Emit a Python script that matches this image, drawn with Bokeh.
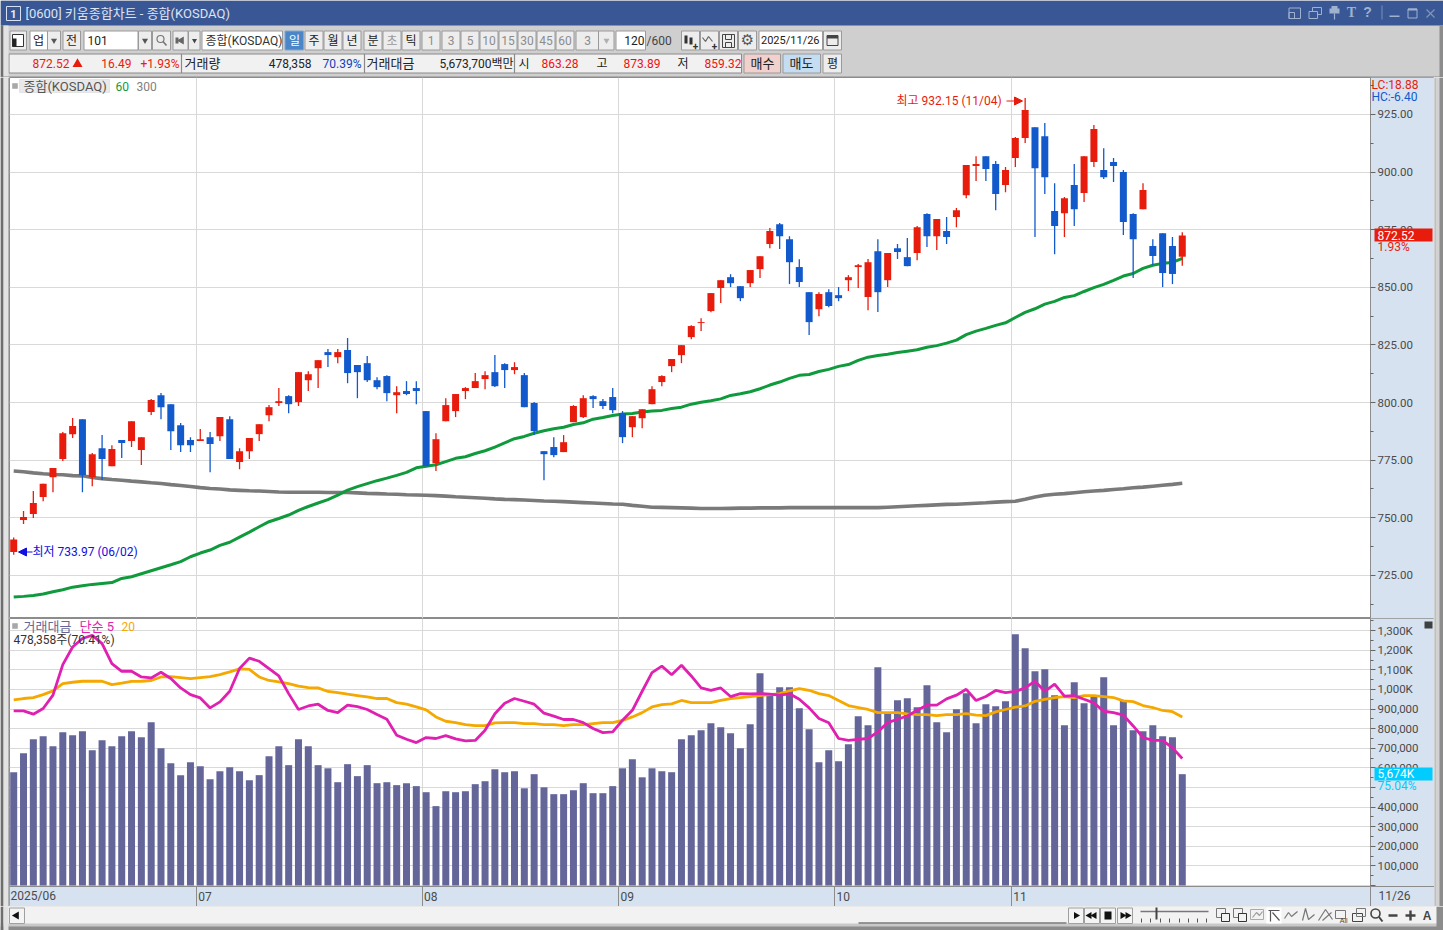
from bokeh.core.properties import value
from bokeh.embed import file_html
from bokeh.layouts import column, row
from bokeh.models import (Arrow, BoxAnnotation, ColumnDataSource, FixedTicker, Grid, Label,
                          LinearAxis, NormalHead, NumeralTickFormatter, Range1d)
from bokeh.plotting import figure
from bokeh.resources import INLINE

FONT = "Roboto, 'Noto Sans CJK KR', sans-serif"
SERIF = "'Liberation Serif', serif"
SANS = "'Liberation Sans', sans-serif"
DEJAVU = "'DejaVu Sans', sans-serif"

open_ = [735.1,749.0,751.6,759.0,767.6,775.5,786.3,792.8,767.6,780.2,772.4,783.7,783.3,779.4,795.9,803.2,799.3,790.2,783.7,783.3,
         785.0,785.4,792.8,774.2,778.9,786.3,794.5,799.8,802.8,800.2,809.7,814.9,821.9,819.7,822.8,816.3,817.1,809.7,811.5,803.2,
         805.0,806.3,796.3,773.7,791.9,796.3,805.0,806.3,810.2,813.2,816.7,814.1,811.9,799.8,778.9,780.7,778.5,791.5,793.7,802.8,
         800.6,802.4,795.4,789.3,793.2,799.3,808.9,815.8,820.6,828.4,834.5,839.7,849.7,854.4,850.5,851.8,857.9,868.8,877.4,870.9,
         858.8,847.9,840.5,847.9,846.6,853.1,858.8,845.8,865.7,853.1,867.0,863.1,864.9,881.8,872.2,874.4,880.5,890.0,902.6,906.9,
         903.5,894.4,906.1,914.8,919.5,915.6,883.1,882.2,894.4,890.9,904.4,900.9,904.4,900.0,881.8,883.9,867.9,873.5,867.9,863.28]
high = [741.5,752.9,761.6,764.8,771.6,787.2,793.3,792.8,778.1,785.9,781.5,783.7,791.9,785.0,801.5,804.1,799.3,791.1,785.0,788.5,
        787.2,793.7,794.1,780.2,784.6,790.6,798.9,806.3,803.2,813.2,813.6,818.4,823.2,823.2,828.0,816.3,820.2,811.0,811.9,807.1,
        809.3,809.3,796.3,786.7,801.9,803.7,806.7,812.8,813.6,820.6,817.1,817.5,812.8,800.2,778.9,785.0,785.9,798.9,803.2,803.2,
        801.5,806.3,796.3,794.1,797.1,807.1,811.9,818.9,824.9,833.6,836.6,847.5,853.1,855.7,850.5,857.5,863.5,875.7,877.9,872.2,
        862.2,847.9,847.9,849.2,850.1,855.3,860.1,862.3,870.9,864.9,868.8,871.4,876.6,882.2,879.6,880.5,884.4,903.1,906.9,906.9,
        904.8,902.2,915.2,932.15,919.5,921.3,895.2,889.2,903.5,906.9,920.4,910.4,906.1,900.9,882.2,895.2,870.9,873.5,871.8,873.89]
low = [733.97,747.3,749.9,757.2,761.1,774.6,784.6,761.1,763.7,766.4,772.4,775.9,780.7,772.9,794.6,792.8,779.4,778.5,778.5,783.3,
       769.8,783.3,775.5,771.1,775.5,783.3,791.9,798.5,795.4,798.5,805.0,806.3,815.4,817.1,808.4,801.9,808.9,805.8,800.6,795.4,
       803.2,799.3,772.4,770.3,791.9,793.7,801.5,806.3,805.8,806.7,806.3,812.3,798.0,785.9,766.3,776.3,778.5,791.5,793.3,797.6,
       797.2,795.4,782.4,785.0,788.9,799.3,807.1,813.2,817.1,827.5,831.0,839.2,843.2,850.1,844.0,850.1,854.0,867.0,866.6,851.4,
       850.1,829.3,837.5,841.4,844.0,848.4,849.7,840.1,839.3,850.1,862.3,859.2,861.8,867.5,866.2,868.8,876.1,888.7,896.1,896.1,
       883.5,891.3,902.2,912.6,871.8,890.5,864.4,871.8,876.6,887.0,902.2,897.0,895.7,872.7,854.0,883.9,859.7,850.1,851.4,859.32]
close = [740.6,750.3,756.4,764.8,771.6,786.7,789.8,768.5,777.6,775.5,779.8,782.4,791.9,785.0,801.1,798.0,787.6,781.5,781.5,784.1,
         782.0,793.7,775.5,778.9,784.6,790.6,798.0,800.6,799.3,813.2,812.3,818.4,820.6,821.9,812.8,813.2,809.7,806.7,804.1,804.5,
         803.7,805.0,772.4,784.1,798.9,803.7,806.3,809.3,811.9,807.1,814.1,815.4,798.0,787.6,777.6,777.2,782.8,798.5,801.9,801.5,
         798.5,796.7,785.0,794.1,797.1,805.8,811.5,818.9,824.9,833.2,834.9,847.5,853.1,851.8,845.3,857.5,863.5,874.4,872.2,860.9,
         852.3,834.9,847.1,841.9,845.3,854.4,859.6,860.9,847.9,864.9,865.3,859.2,876.1,872.2,879.6,871.8,883.5,903.1,903.5,901.3,
         890.5,900.9,914.8,926.9,901.7,897.8,876.6,888.7,883.9,906.9,918.7,897.8,902.6,878.3,870.9,892.2,863.6,856.2,855.8,872.52]
ma60 = [715.6,715.9,716.3,716.9,717.9,718.8,719.9,720.5,721.1,721.5,721.9,723.7,724.4,725.7,727.0,728.3,729.6,731.0,733.1,734.7,
        736.0,738.0,739.4,741.6,743.8,746.1,748.3,749.7,751.2,753.2,754.9,756.4,757.9,759.8,762.0,763.5,764.8,766.1,767.2,768.4,
        769.7,771.7,772.4,773.0,774.4,775.8,776.5,777.9,779.1,780.7,782.5,784.3,785.3,786.7,787.8,788.6,789.3,790.5,791.2,792.8,
        793.5,794.4,795.0,795.3,795.9,796.3,796.6,797.4,798.0,799.3,800.1,800.8,801.6,803.1,803.8,804.7,806.0,807.6,808.9,810.5,
        811.8,812.2,813.5,814.4,815.7,816.5,818.3,819.7,820.4,821.0,821.7,822.3,822.9,824.0,824.7,825.8,827.1,829.5,831.0,832.2,
        833.5,834.6,836.9,839.1,840.7,842.7,843.9,845.6,846.4,848.2,849.9,851.3,853.0,854.9,856.0,858.2,859.6,860.4,860.8,862.6]
ma300 = [770.3,770.0,769.5,769.1,768.8,768.7,768.3,768.2,767.5,767.0,766.6,766.3,765.9,765.6,765.2,764.9,764.4,764.0,763.6,763.1,
         762.7,762.5,762.1,761.9,761.7,761.6,761.4,761.2,761.1,761.1,761.1,761.1,761.0,761.0,761.0,760.8,760.6,760.5,760.3,760.2,
         760.0,759.9,759.8,759.6,759.4,759.1,758.9,758.7,758.5,758.2,758.0,757.9,757.7,757.5,757.3,757.2,757.0,756.8,756.6,756.4,
         756.2,756.0,755.9,755.4,755.0,754.6,754.5,754.4,754.3,754.2,754.0,754.0,754.0,754.1,754.2,754.2,754.3,754.3,754.3,754.4,
         754.4,754.4,754.4,754.4,754.4,754.4,754.4,754.4,754.4,754.6,754.8,755.0,755.2,755.4,755.6,755.8,755.9,756.1,756.3,756.5,
         756.8,757.0,757.2,758.0,759.0,759.8,760.2,760.5,760.9,761.3,761.6,761.9,762.3,762.6,763.0,763.3,763.7,764.1,764.5,765.0]
vol_k = [578,675,746,762,711,782,767,787,690,741,711,762,787,757,833,700,624,563,629,609,
         542,583,603,583,537,563,660,711,614,746,711,614,598,527,619,558,614,522,527,512,
         522,507,476,405,481,476,481,517,532,593,578,583,496,568,501,466,466,486,522,471,
         471,507,598,644,552,598,583,578,746,767,792,828,808,777,700,823,1083,971,1012,1012,
         904,797,629,690,634,721,864,818,1114,882,945,955,910,1022,833,782,899,981,828,925,
         915,940,1282,1211,1093,1103,971,818,1037,930,971,1063,818,945,792,787,818,762,757,568]
vol_ma5 = [891,891,874,903,971,1127,1217,1260,1277,1234,1132,1093,1093,1064,1059,1088,1056,1008,974,957,
           906,937,991,1107,1160,1144,1107,1069,979,898,916,925,893,882,920,913,898,872,848,767,
           746,729,755,750,765,748,738,740,792,876,930,954,940,925,879,864,847,847,831,801,
           780,784,843,894,991,1086,1119,1075,1124,1069,1008,995,1008,964,979,978,979,976,971,978,
           950,906,852,830,750,740,745,750,784,831,848,865,894,920,920,952,971,1001,944,964,
           995,984,990,1008,1042,991,1027,966,969,950,932,889,882,869,814,755,740,740,702,648]
vol_ma20 = [947,954,959,974,993,1030,1037,1042,1042,1042,1025,1032,1041,1042,1046,1064,1066,1061,1056,1061,
            1066,1076,1090,1105,1103,1064,1046,1039,1030,1017,1010,1008,990,984,976,969,962,954,954,933,
            925,911,896,860,838,831,821,816,816,830,831,831,826,826,821,821,816,821,821,826,
            831,831,842,860,882,911,923,927,944,933,933,933,944,954,959,964,969,974,979,993,
            1005,996,979,969,944,918,908,898,882,882,882,876,872,872,867,872,872,877,869,867,
            886,898,910,916,940,950,959,964,959,969,969,964,959,942,938,918,908,893,887,860]
assert all(len(a) == 120 for a in (open_, high, low, close, ma60, ma300, vol_k, vol_ma5, vol_ma20))

month_starts = [19, 42, 62, 84, 102]
month_labels = ["2025/06", "07", "08", "09", "10", "11"]
last_date = "11/26"
price_ticks = [725, 750, 775, 800, 825, 850, 875, 900, 925]
vol_ticks = [0, 100, 200, 300, 400, 500, 600, 700, 800, 900, 1000, 1100, 1200, 1300]
vol_tick_labels = ["", "100,000", "200,000", "300,000", "400,000", "", "600,000", "700,000", "800,000",
                   "900,000", "1,000K", "1,100K", "1,200K", "1,300K"]

# ---- scale mapping of the original window
X0, DX = 13.2, 9.82
def xd(px): return (px - X0) / DX
def pd_(py): return 974.64 - 0.43393 * (py + 0.4)
def vd(py): return (885.0 - py) * 5.102

x_range = Range1d(xd(9), xd(1434))
GRID = "#D9D9D9"
AXC = "#8C8C8C"
PANEL = "#D6E2F0"
TXT = "#4A4A4A"

def base_fig(w, h, yr, **kw):
    f = figure(width=w, height=h, x_range=x_range, y_range=yr, output_backend="svg", toolbar_location=None,
               x_axis_location=None, y_axis_location=None, min_border=0, background_fill_color="white",
               border_fill_color=PANEL, outline_line_color=AXC, **kw)
    f.grid.visible = False
    return f

grid_x = [m - 0.42 for m in month_starts]

# ==== price
price = base_fig(1425, 541, Range1d(pd_(618), pd_(77)))
price.add_layout(Grid(dimension=0, ticker=FixedTicker(ticks=grid_x), grid_line_color=GRID))
yax = LinearAxis(ticker=FixedTicker(ticks=price_ticks, minor_ticks=[t + 12.5 for t in price_ticks] + [712.5]),
                 formatter=NumeralTickFormatter(format="0.00"), axis_line_color=AXC, major_tick_line_color="#666666",
                 minor_tick_line_color="#666666", major_tick_out=5, major_tick_in=0, minor_tick_out=3, minor_tick_in=0,
                 major_label_text_font=FONT, major_label_text_font_size="11.5px", major_label_text_color=TXT,
                 major_label_standoff=2, fixed_location=xd(1370))
price.add_layout(Grid(dimension=1, ticker=yax.ticker, grid_line_color=GRID))
price.quad(left=[xd(1370)], right=[xd(1434)], top=[pd_(77)], bottom=[pd_(618)], fill_color=PANEL, line_color=None)
price.add_layout(yax, "right")

idx = list(range(120))
cs = ColumnDataSource(dict(
    x=idx, o=open_, h=high, l=low, c=close,
    top=[max(a, b) for a, b in zip(open_, close)], bot=[min(a, b) for a, b in zip(open_, close)],
    col=["#E81C0C" if c >= o else "#1259CC" for o, c in zip(open_, close)]))
price.line(idx, ma300, line_color="#7A7A7A", line_width=3.6)
price.line(idx, ma60, line_color="#0F9A3C", line_width=3)
price.segment("x", "h", "x", "l", source=cs, line_color="col", line_width=1.3)
price.vbar(x="x", top="top", bottom="bot", width=0.713, source=cs, fill_color="col", line_color=None)

def plabel(f, yf, px, py, text, color, size="12px", align="left", **kw):
    f.add_layout(Label(x=xd(px), y=yf(py), text=text, text_color=color, text_font=FONT, text_font_size=size,
                       text_align=align, text_baseline="middle", **kw))

plabel(price, pd_, 896, 100.5, "최고 932.15 (11/04)", "#E81C0C")
plabel(price, pd_, 32, 551.5, "최저 733.97 (06/02)", "#1010E0")
price.add_layout(Arrow(end=NormalHead(size=8, fill_color="#E81C0C", line_color="#E81C0C"), line_color="#E81C0C", line_width=1.2,
                       x_start=xd(1006), y_start=pd_(100.5), x_end=xd(1022), y_end=pd_(100.5)))
price.add_layout(Arrow(end=NormalHead(size=8, fill_color="#1010E0", line_color="#1010E0"), line_color="#1010E0", line_width=1.2,
                       x_start=xd(32), y_start=pd_(551.5), x_end=xd(18), y_end=pd_(551.5)))
price.add_layout(BoxAnnotation(left=xd(12), right=xd(17), top=pd_(83), bottom=pd_(88), fill_color="#A8A8A8", fill_alpha=1,
                               line_color="#808080"))
price.add_layout(BoxAnnotation(left=xd(19), right=xd(109), top=pd_(79), bottom=pd_(92), fill_color="#E9E9E9", fill_alpha=1,
                               line_color="#C0C0C0"))
plabel(price, pd_, 23, 85.5, "종합(KOSDAQ)", "#555555", "13px")
plabel(price, pd_, 115, 85.5, "60", "#0F9A3C")
plabel(price, pd_, 136, 85.5, "300", "#808080")
plabel(price, pd_, 1371, 84.5, "LC:18.88", "#E81C0C")
plabel(price, pd_, 1371, 96, "HC:-6.40", "#1259CC")
price.add_layout(BoxAnnotation(left=xd(1374), right=xd(1432), top=pd_(228), bottom=pd_(241), fill_color="#E81C0C", fill_alpha=1,
                               line_color=None))
plabel(price, pd_, 1377, 234.5, "872.52", "white")
plabel(price, pd_, 1377, 246, "1.93%", "#E81C0C")

# ==== volume
vol = base_fig(1425, 288, Range1d(vd(906), vd(618)))
vol.add_layout(Grid(dimension=0, ticker=FixedTicker(ticks=grid_x), grid_line_color=GRID))
vy = LinearAxis(ticker=FixedTicker(ticks=vol_ticks, minor_ticks=[t + 50 for t in vol_ticks]),
                major_label_overrides={t: s for t, s in zip(vol_ticks, vol_tick_labels)},
                axis_line_color=AXC, major_tick_line_color="#666666", minor_tick_line_color="#666666",
                major_tick_out=5, major_tick_in=0, minor_tick_out=3, minor_tick_in=0,
                major_label_text_font=FONT, major_label_text_font_size="11.5px", major_label_text_color=TXT,
                major_label_standoff=2, fixed_location=xd(1370))
vol.add_layout(Grid(dimension=1, ticker=vy.ticker, grid_line_color=GRID))
vol.quad(left=[xd(1370)], right=[xd(1434)], top=[vd(618)], bottom=[vd(906)], fill_color=PANEL, line_color=None)
vol.quad(left=[xd(9)], right=[xd(1434)], top=[vd(886)], bottom=[vd(906)], fill_color=PANEL, line_color=None)
vol.add_layout(vy, "right")
xt = grid_x + [xd(1369.5)]
vx = LinearAxis(ticker=FixedTicker(ticks=xt), major_label_overrides={t: "" for t in xt},
                axis_line_color=AXC, major_tick_line_color=AXC, major_tick_out=20, major_tick_in=0,
                minor_tick_line_color=None, major_label_text_font_size="1px", fixed_location=vd(886))
vol.add_layout(vx, "below")
vol.vbar(x=idx, top=vol_k, bottom=0, width=0.713, fill_color="#64669A", line_color=None)
vol.line(idx, vol_ma20, line_color="#F4A800", line_width=2.8)
vol.line(idx, vol_ma5, line_color="#E020B0", line_width=2.8)

for m, s in zip([None] + month_starts, month_labels):
    plabel(vol, vd, 10 if m is None else X0 + DX * (m - 0.42) + 2, 895.5, s, TXT)
plabel(vol, vd, 1378, 895.5, last_date, TXT)

vol.add_layout(BoxAnnotation(left=xd(12), right=xd(17), top=vd(623), bottom=vd(628), fill_color="#A8A8A8", fill_alpha=1,
                             line_color="#808080"))
plabel(vol, vd, 23, 626, "거래대금", "#64669A", "13px")
plabel(vol, vd, 79, 626, "단순 5", "#E020B0", "13px")
plabel(vol, vd, 121, 626, "20", "#F4A800")
plabel(vol, vd, 13, 639, "478,358주(70.41%)", "#333333")
vol.add_layout(BoxAnnotation(left=xd(1424), right=xd(1432), top=vd(621), bottom=vd(628), fill_color="#404040", fill_alpha=1,
                             line_color=None))
vol.add_layout(BoxAnnotation(left=xd(1374), right=xd(1432), top=vd(767), bottom=vd(780), fill_color="#00CCFF", fill_alpha=1,
                             line_color=None))
plabel(vol, vd, 1377, 773.5, "5,674K", "white")
plabel(vol, vd, 1377, 785.5, "75.04%", "#00CCFF")

# ==== window chrome
def chrome(w, h, y0=0):
    f = figure(width=w, height=h, x_range=Range1d(0, w), y_range=Range1d(y0 + h, y0), output_backend="svg",
               toolbar_location=None, x_axis_location=None, y_axis_location=None, min_border=0,
               background_fill_color="#CFCFCF", border_fill_color="#CFCFCF", outline_line_color=None)
    f.grid.visible = False
    return f

def box(f, x0, y0, x1, y1, fill="#EDEDED", line="#9A9A9A"):
    f.quad(left=[x0], right=[x1], top=[y0], bottom=[y1], fill_color=fill, line_color=line)

def txt(f, x, y, s, color="#222222", size="12px", align="left", font=FONT, style="normal"):
    f.text(x=[x], y=[y], text=[s], text_color=color, text_font=value(font), text_font_size=size, text_align=align,
           text_baseline="middle", text_font_style=style)

def lines(f, pts, color="#666666", width=1.2):
    f.line([p[0] for p in pts], [p[1] for p in pts], line_color=color, line_width=width)

top = chrome(1443, 77)
box(top, 0, 0, 1443, 25, "#3A5795", None)
box(top, 6, 6, 20, 20, "#3A5795", "#D8E0F0")
txt(top, 13, 13, "1", "#E8EEF8", "11px", "center", style="bold")
txt(top, 25, 12.5, "[0600]  키움종합차트 - 종합(KOSDAQ)", "#DDE4F2", "13px")
ic = "#9FB1CF"
box(top, 1288.5, 7.5, 1300, 18, None, ic); box(top, 1288.5, 12, 1294, 18, None, ic)
box(top, 1312, 7, 1321, 14, None, ic); box(top, 1308.5, 11, 1317, 18, "#3A5795", ic)
box(top, 1329, 8, 1339, 13, ic, None); box(top, 1331, 5.5, 1337, 9, ic, None); lines(top, [(1334, 13), (1334, 19)], ic)
txt(top, 1351, 12, "T", ic, "14px", "center", SERIF, "bold")
txt(top, 1367, 11.5, "?", ic, "14px", "center", SANS, "bold")
lines(top, [(1381.5, 5), (1381.5, 19)], "#6F86B2")
box(top, 1389, 15, 1399, 16.5, ic, None)
box(top, 1407.5, 8.5, 1416.5, 17.5, None, ic); box(top, 1407.5, 8, 1416.5, 10, ic, None)
lines(top, [(1426, 9), (1434, 17)], "#7F94BC"); lines(top, [(1426, 17), (1434, 9)], "#7F94BC")

# toolbar row
Y0, Y1, YC = 30.5, 49.5, 40
box(top, 9.5, Y0, 26, Y1)
box(top, 12, 34, 23, 46, "white", "#333333"); box(top, 12, 38, 16, 46, "#222222", None)
box(top, 29.5, Y0, 47, Y1, "white"); txt(top, 38, YC, "업", align="center")
box(top, 47, Y0, 60, Y1); top.scatter([53.5], [YC], marker="inverted_triangle", size=6, fill_color="#555555", line_color=None)
box(top, 62.5, Y0, 80, Y1); txt(top, 71, YC, "전", align="center")
box(top, 83.5, Y0, 137.5, Y1, "white"); txt(top, 87, YC, "101")
box(top, 138, Y0, 151, Y1); top.scatter([144.5], [YC], marker="inverted_triangle", size=6, fill_color="#555555", line_color=None)
box(top, 152, Y0, 170, Y1)
top.scatter([160], [38.5], marker="circle", size=7, fill_color=None, line_color="#777777", line_width=1.2)
lines(top, [(162.5, 41), (166, 45)], "#777777", 1.6)
box(top, 172.5, Y0, 187.5, Y1); box(top, 175, 37, 178, 43, "#666666", None)
top.scatter([181], [40], marker="triangle", size=8, angle=1.5708, fill_color="#666666", line_color=None)
box(top, 188, Y0, 199.5, Y1); top.scatter([194], [YC], marker="inverted_triangle", size=5, fill_color="#444444", line_color=None)
box(top, 201.5, Y0, 282, Y1, "white"); txt(top, 205, YC, "종합(KOSDAQ)", "#333333")
box(top, 284.5, Y0, 303, Y1, "#4A86C8", "#7FA8D4"); txt(top, 294, YC, "일", "white", align="center")
for x0, s, c in [(304, "주", "#222222"), (323, "월", "#222222"), (342, "년", "#222222"), (363, "분", "#222222"),
                 (382, "초", "#999999"), (401, "틱", "#222222")]:
    box(top, x0 + .5, Y0, x0 + 18.5, Y1); txt(top, x0 + 9.5, YC, s, c, align="center")
for x0, s in [(421, "1"), (441, "3"), (460, "5"), (479, "10"), (498, "15"), (517, "30"), (536, "45"), (555, "60")]:
    box(top, x0 + .5, Y0, x0 + 18.5, Y1); txt(top, x0 + 9.5, YC, s, "#8C8C8C", align="center")
box(top, 575.5, Y0, 598, Y1); txt(top, 587, YC, "3", "#8C8C8C", align="center")
box(top, 598, Y0, 613.5, Y1); top.scatter([606], [YC], marker="inverted_triangle", size=6, fill_color="#B0B0B0", line_color=None)
box(top, 615.5, Y0, 645, Y1, "white"); txt(top, 644, YC, "120", align="right")
txt(top, 646, YC, "/600", "#444444")
box(top, 681, Y0, 699, Y1); box(top, 684, 35, 687, 43, "#333333", None); box(top, 689, 37, 692, 44, "#333333", None)
txt(top, 695, 45, "+", "#333333", "10px", "center", style="bold")
box(top, 700, Y0, 718, Y1); lines(top, [(702, 37), (705, 41), (708, 36), (712, 41)], "#666666")
txt(top, 714, 45, "+", "#333333", "10px", "center", style="bold")
box(top, 719, Y0, 737, Y1); box(top, 722, 34, 734, 47, None, "#444444"); box(top, 725, 34, 731, 39, None, "#444444"); box(top, 725, 42, 731, 47, None, "#444444")
box(top, 738, Y0, 756, Y1); txt(top, 747, 39.5, "⚙", "#555555", "15px", "center", DEJAVU)
box(top, 758.5, Y0, 822, Y1, "white"); txt(top, 760.5, YC, "2025/11/26", size="11px")
box(top, 823, Y0, 841, Y1); box(top, 826.5, 35, 837.5, 45, None, "#444444"); box(top, 826.5, 35, 837.5, 38, "#444444", None)

# quote row
RY, RT, RB = 63, 53.5, 72.5
box(top, 8.5, RT, 741, RB, "#F1F1F1", "#8A8A8A")
txt(top, 69, RY, "872.52", "#E81C0C", align="right")
top.scatter([77], [63.5], marker="triangle", size=10, fill_color="#E81C0C", line_color=None)
txt(top, 131, RY, "16.49", "#E81C0C", align="right")
txt(top, 179, RY, "+1.93%", "#E81C0C", align="right")
lines(top, [(181, RT), (181, RB)], "#8A8A8A")
txt(top, 184, RY, "거래량", size="13px")
txt(top, 311, RY, "478,358", align="right")
txt(top, 361, RY, "70.39%", "#1040C0", align="right")
lines(top, [(364, RT), (364, RB)], "#8A8A8A")
txt(top, 366, RY, "거래대금", size="13px")
txt(top, 513, RY, "5,673,700백만", align="right")
lines(top, [(514, RT), (514, RB)], "#8A8A8A")
txt(top, 518, RY, "시")
txt(top, 578, RY, "863.28", "#F01010", align="right")
txt(top, 596, RY, "고")
txt(top, 660, RY, "873.89", "#F01010", align="right")
txt(top, 677, RY, "저")
txt(top, 741, RY, "859.32", "#F01010", align="right")
box(top, 743.5, RT, 780, RB, "#F2D0CC"); txt(top, 762, RY, "매수", align="center", size="13px")
box(top, 782.5, RT, 820, RB, "#C5DDF2"); txt(top, 801, RY, "매도", align="center", size="13px")
box(top, 822.5, RT, 841, RB); txt(top, 832, RY, "평", align="center")
box(top, 0, 25, 3, 77, "#6E6E6E", None); box(top, 3, 25, 8, 77, "#E2E2E2", None)
lines(top, [(0, 76.5), (1443, 76.5)], "#8C8C8C")
box(top, 1439, 25, 1443, 77, "#8C8C8C", None)

# bottom bar
bot = chrome(1443, 24, 906)
box(bot, 0, 906, 1443, 930, "#F2F2F2", None)
box(bot, 0, 923, 1443, 930, "#C8C8C8", None)
box(bot, 0, 926, 1443, 930, "#8C8C8C", None)
box(bot, 0, 906, 3, 930, "#6E6E6E", None); box(bot, 3, 906, 8, 930, "#E2E2E2", None)
box(bot, 1436, 906, 1443, 930, "#8C8C8C", None)
box(bot, 9, 907.5, 24, 923, "#F4F4F4", "#A0A0A0")
bot.scatter([16], [915], marker="triangle", size=8, angle=1.5708, fill_color="#111111", line_color=None)
lines(bot, [(858, 922.5), (1066, 922.5)], "#777777", 1.4)
for x0, m, n in [(1068, "r", 1), (1084, "l", 2), (1117, "r", 2)]:
    box(bot, x0, 907.5, x0 + 15, 923, "#F4F4F4", "#A0A0A0")
    for k in range(n):
        a = -1.5708 if m == "r" else 1.5708
        bot.scatter([x0 + 7.5 + (k * 5 - (n - 1) * 2.5)], [915], marker="triangle", size=7, angle=a, fill_color="#111111", line_color=None)
box(bot, 1100, 907.5, 1115, 923, "#F4F4F4", "#A0A0A0"); box(bot, 1104, 911, 1111, 919, "#111111", None)
lines(bot, [(1140, 911), (1208, 911)], "#777777", 1.4)
lines(bot, [(1156, 907), (1156, 919)], "#444444", 2)
for tx in (1141, 1150, 1160, 1169, 1179, 1188, 1197, 1206):
    lines(bot, [(tx, 918), (tx, 922)], "#555555", 1)
icg = "#777777"
for x0 in (1216, 1233):
    box(bot, x0, 908, x0 + 9, 917, None, icg); box(bot, x0 + 5, 913, x0 + 13, 921, "#F2F2F2", "#333333")
box(bot, 1250, 909, 1263, 919, None, "#AAAAAA")
lines(bot, [(1252, 917), (1256, 912), (1259, 915), (1262, 911)], "#999999")
box(bot, 1266, 907, 1281, 923, "#FFFFFF", None)
lines(bot, [(1270, 910), (1270, 921)], "#555555"); lines(bot, [(1268, 910), (1279, 910)], "#555555"); lines(bot, [(1272, 912), (1279, 920)], "#555555")
lines(bot, [(1284, 918), (1288, 912), (1291, 916), (1297, 911)], icg)
lines(bot, [(1302, 920), (1305, 908), (1308, 919), (1314, 914)], icg)
lines(bot, [(1318, 920), (1325, 909), (1332, 919)], icg); lines(bot, [(1322, 920), (1331, 912)], icg)
box(bot, 1335, 910, 1345, 918, None, icg); txt(bot, 1347, 920, "All", "#444444", "7px", "right", SANS)
box(bot, 1352, 913, 1362, 921, None, "#444444"); box(bot, 1356, 908, 1365, 916, None, icg)
bot.scatter([1375], [913], marker="circle", size=9, fill_color=None, line_color="#444444", line_width=1.6)
lines(bot, [(1378.5, 916.5), (1382, 921)], "#444444", 2)
lines(bot, [(1388, 915), (1397, 915)], "#444444", 2.4)
lines(bot, [(1405, 915), (1415, 915)], "#444444", 2.4); lines(bot, [(1410, 910), (1410, 920)], "#444444", 2.4)
txt(bot, 1426.5, 915, "A", "#444444", "12px", "center", SANS, "bold")

def strip(w, h, parts):
    f = figure(width=w, height=h, x_range=Range1d(0, w), y_range=Range1d(0, 1), output_backend="svg", toolbar_location=None,
               x_axis_location=None, y_axis_location=None, min_border=0, outline_line_color=None,
               background_fill_color="#CFCFCF", border_fill_color="#CFCFCF")
    f.grid.visible = False
    for a, b, c in parts:
        f.quad(left=[a], right=[b], top=[1], bottom=[0], fill_color=c, line_color=None)
    return f

h_mid = 541 + 288
left = strip(9, h_mid, [(0, 3, "#6E6E6E"), (3, 8, "#E2E2E2"), (8, 9, "#8C8C8C")])
right = strip(9, h_mid, [(0, 1, "#8C8C8C"), (1, 5, "#D2D2D2"), (5, 9, "#8C8C8C")])
mid = row(left, column(price, vol, spacing=0), right, spacing=0)
page = column(top, mid, bot, spacing=0)

open("out.html", "w").write(file_html(page, INLINE))
